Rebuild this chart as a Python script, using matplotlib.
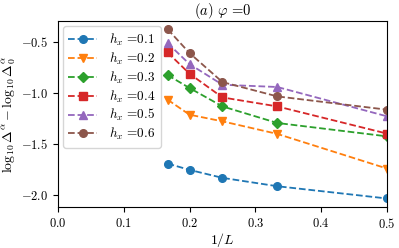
import matplotlib
matplotlib.use("Agg")
import matplotlib.pyplot as plt
import numpy as np

plt.rcParams['font.family'] = 'serif'
plt.rcParams['font.serif'] = ['cmr10']
plt.rcParams['mathtext.fontset'] = 'cm'
plt.rcParams['axes.formatter.use_mathtext'] = True
plt.rcParams['font.size'] = 9

# system sizes -> 1/L
L = [6, 5, 4, 3, 2]
inv_L = [1.0 / l for l in L]

hx_labels = ["0.1", "0.2", "0.3", "0.4", "0.5", "0.6"]

# log10 Delta^alpha - log10 Delta_0^alpha
hx01 = [-1.694, -1.756, -1.834, -1.916, -2.036]
hx02 = [-1.069, -1.216, -1.281, -1.404, -1.743]
hx03 = [-0.828, -0.955, -1.135, -1.297, -1.428]
hx04 = [-0.607, -0.815, -1.047, -1.135, -1.401]
hx05 = [-0.516, -0.721, -0.923, -0.945, -1.232]
hx06 = [-0.379, -0.613, -0.897, -1.037, -1.167]

series = [hx01, hx02, hx03, hx04, hx05, hx06]
markers = ['o', 'v', 'D', 's', '^', 'o']
colors = ['#1f77b4', '#ff7f0e', '#2ca02c', '#d62728', '#9467bd', '#8c564b']

fig = plt.figure(figsize=(3.99, 2.48), dpi=100)
ax = fig.add_axes([0.145, 0.165, 0.825, 0.75])

for vals, lab, m, c in zip(series, hx_labels, markers, colors):
    ax.plot(inv_L, vals, linestyle='--', marker=m, color=c, markersize=5.5,
            linewidth=1.3, label=r'$h_x\ $=' + lab)

ax.set_xlim(0, 0.5)
ax.set_ylim(-2.12, -0.3)
ax.set_xticks([0.0, 0.1, 0.2, 0.3, 0.4, 0.5])
ax.set_yticks([-2.0, -1.5, -1.0, -0.5])
ax.set_xlabel(r'$1/L$', fontsize=10, labelpad=0)
ax.set_ylabel(r'$\log_{10}\Delta^\alpha - \log_{10}\Delta_0^\alpha$', fontsize=10, labelpad=2)
ax.set_title(r'$(a)\ \varphi\ $=0', fontsize=10.5, pad=3)
ax.legend(loc='upper left', fontsize=9.5, handlelength=2.2, labelspacing=0.2,
          borderaxespad=0.4, handletextpad=0.9)

fig.savefig('out.png', dpi=100)
